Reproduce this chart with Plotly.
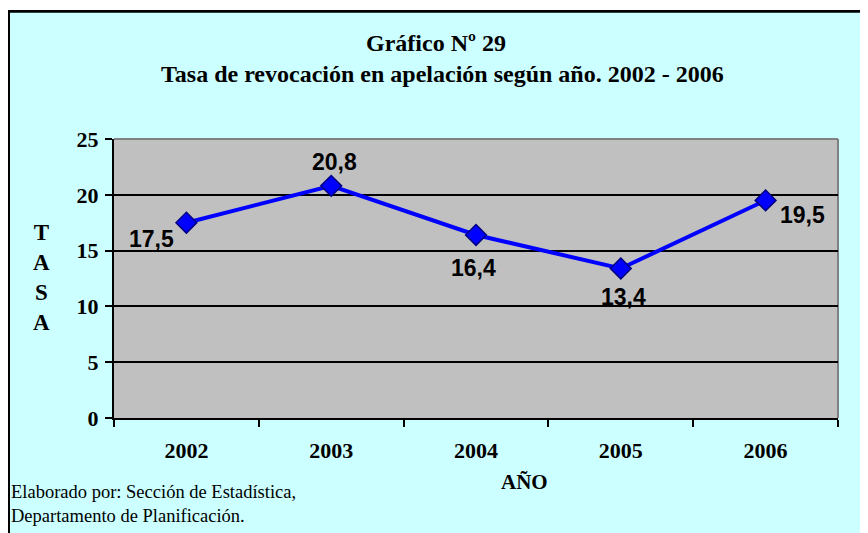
"""Tasa de revocación en apelación según año, 2002 - 2006."""

import plotly.graph_objects as go

# Data
years = ["2002", "2003", "2004", "2005", "2006"]
tasa = [17.5, 20.8, 16.4, 13.4, 19.5]
labels = ["17,5", "20,8", "16,4", "13,4", "19,5"]
y_ticks = [0, 5, 10, 15, 20, 25]

# label offsets from each marker, in pixels (style, not data)
label_dx = [-35, 3, -3, 3, 37]
label_dy = [-16, 24, -33, -29, -15]

# the page body has an 8px margin, so the figure is drawn 8px in
OFF = 8
W, H = 868 - OFF, 533 - OFF
L, R, T, B = 114 - OFF, 868 - 838, 139 - OFF, 533 - 418
PW, PH = W - L - R, H - T - B

SERIF = "Times New Roman, Liberation Serif, serif"
SANS = "Arial, Liberation Sans, sans-serif"


def px(x):
    """Screen x (page pixels) to paper x."""
    return (x - OFF - L) / PW


def py(y):
    """Screen y (page pixels) to paper y."""
    return (H - B - (y - OFF)) / PH


fig = go.Figure(
    go.Scatter(
        x=years,
        y=tasa,
        mode="lines+markers",
        line=dict(color="#0000FF", width=4),
        marker=dict(symbol="diamond", size=16, color="#0000FF",
                    line=dict(color="#000080", width=1.5)),
        cliponaxis=False,
        hoverinfo="skip",
    )
)

fig.update_xaxes(
    type="category",
    range=[-0.5, 4.5],
    tickson="boundaries",
    ticks="outside",
    ticklen=7,
    tickwidth=2,
    tickcolor="black",
    ticklabelstandoff=12,
    showgrid=False,
    showline=True,
    linecolor="black",
    linewidth=2,
    tickfont=dict(family=SERIF, size=22, color="black", weight="bold"),
    fixedrange=True,
)
fig.update_yaxes(
    range=[0, 25],
    tickvals=y_ticks,
    ticks="outside",
    ticklen=7,
    tickwidth=2,
    tickcolor="black",
    ticklabelstandoff=2,
    showgrid=True,
    gridcolor="black",
    gridwidth=2,
    zeroline=False,
    showline=True,
    linecolor="black",
    linewidth=2,
    tickfont=dict(family=SERIF, size=22, color="black", weight="bold"),
    fixedrange=True,
)

shapes = [
    # white strip above the chart frame
    dict(type="rect", xref="paper", yref="paper", x0=px(0), x1=px(880), y0=py(0), y1=py(10),
         fillcolor="white", line=dict(width=0), layer="above"),
    # frame lines
    dict(type="line", xref="paper", yref="paper", x0=px(7), x1=px(880), y0=py(11.3), y1=py(11.3),
         line=dict(color="black", width=2.7)),
    dict(type="line", xref="paper", yref="paper", x0=px(8.5), x1=px(8.5), y0=py(10), y1=py(540),
         line=dict(color="black", width=3)),
    # plot area top/right border in gray
    dict(type="line", xref="paper", yref="paper", x0=0, x1=1, y0=1, y1=1,
         line=dict(color="#808080", width=2), layer="below"),
    dict(type="line", xref="paper", yref="paper", x0=1, x1=1, y0=0, y1=1,
         line=dict(color="#808080", width=2), layer="below"),
]


def page_text(text, x, y, size, xanchor="center", align="center"):
    return dict(text=text, x=px(x), y=py(y), xref="paper", yref="paper",
                xanchor=xanchor, yanchor="middle", align=align, showarrow=False,
                font=dict(family=SERIF, size=size, color="black"))


annotations = [
    page_text("<b>Gráfico Nº 29</b>", 436, 43, 24),
    page_text("<b>Tasa de revocación en apelación según año. 2002 - 2006</b>", 442.5, 74, 24),
    page_text("<b>T<br>A<br>S<br>A</b>", 41, 277, 23),
    page_text("<b>AÑO</b>", 524, 482, 21),
    page_text("Elaborado por: Sección de Estadística,<br>Departamento de Planificación.",
              9, 504, 18.5, xanchor="left", align="left"),
]

for i, (val, lab, dx, dy) in enumerate(zip(tasa, labels, label_dx, label_dy)):
    annotations.append(
        dict(text=f"<b>{lab}</b>", x=i, y=val, xref="x", yref="y",
             xanchor="center", yanchor="middle",
             xshift=dx, yshift=dy, showarrow=False,
             font=dict(family=SANS, size=23, color="black"))
    )

fig.update_layout(
    width=W,
    height=H,
    margin=dict(l=L, r=R, t=T, b=B),
    paper_bgcolor="#CCFFFF",
    plot_bgcolor="#C0C0C0",
    showlegend=False,
    shapes=shapes,
    annotations=annotations,
)

fig.write_html("out.html")
